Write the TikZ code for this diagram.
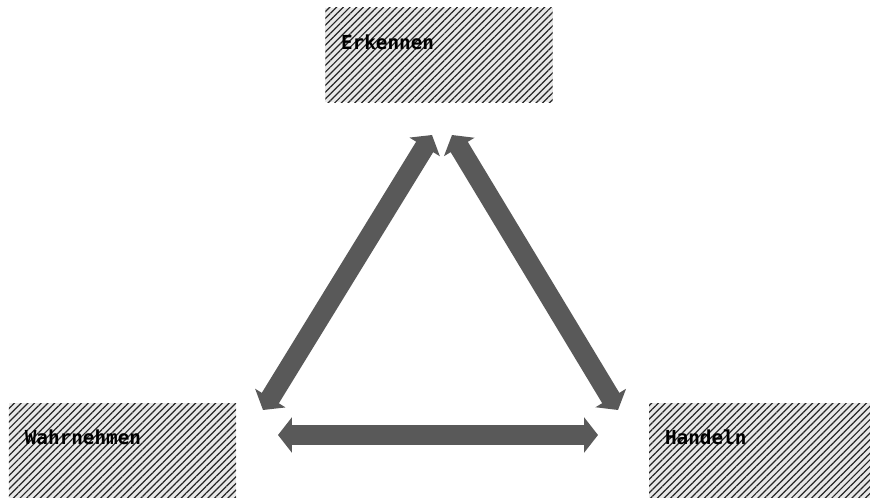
\documentclass[tikz,border=0pt]{standalone}
\usepackage{fontspec}
\setmonofont{DejaVu Sans Mono}
\usetikzlibrary{arrows.meta,patterns.meta,positioning}
\definecolor{arrowgray}{HTML}{595959}
\definecolor{boxgray}{HTML}{E8E8E8}
\tikzset{
  phase/.style={minimum width=#1, minimum height=1.9cm, inner sep=0pt,
    preaction={fill=boxgray},
    pattern={Lines[angle=45,distance=2.7pt,line width=0.7pt]}, pattern color=black!85},
  phase/.default=4.55cm,
  phaselabel/.style={anchor=west, inner sep=0pt, font=\ttfamily\bfseries\fontsize{11}{13}\selectfont},
  bigarrow/.style={arrowgray, line width=0.4cm,
    {Triangle[length=0.28cm,width=0.7cm]}-{Triangle[length=0.28cm,width=0.7cm]}}
}
\begin{document}
\begin{tikzpicture}[x=0.02cm, y=-0.02cm]
  \useasboundingbox (0,0) rectangle (870,498);
  % boxes
  \node[phase] (erk) at (439,55) {};
  \node[phase] (wahr) at (122.5,450.5) {};
  \node[phase=4.42cm] (hand) at (759.5,450.5) {};
  \node[phaselabel] (erkt) at ([xshift=0.32cm,yshift=-0.7cm]erk.north west) {Erkennen};
  \node[phaselabel] (wahrt) at ([xshift=0.32cm,yshift=-0.7cm]wahr.north west) {Wahrnehmen};
  \node[phaselabel] (handt) at ([xshift=0.32cm,yshift=-0.7cm]hand.north west) {Handeln};
  % arrow ends
  \coordinate (a1) at (263,410); \coordinate (a2) at (432,135);
  \coordinate (b1) at (452,135); \coordinate (b2) at (618,410);
  \coordinate (c1) at (278,435); \coordinate (c2) at (598,435);
  \draw[bigarrow] (a1) -- (a2);
  \draw[bigarrow] (b1) -- (b2);
  \draw[bigarrow] (c1) -- (c2);
\end{tikzpicture}
\end{document}
